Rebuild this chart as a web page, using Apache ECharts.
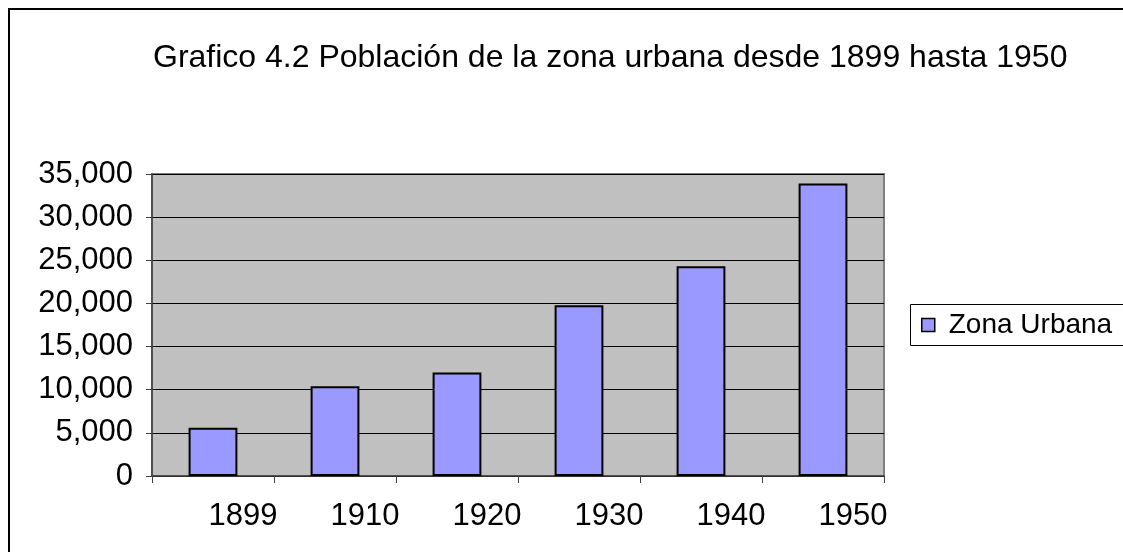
<!DOCTYPE html>
<html>
<head>
<meta charset="utf-8">
<script src="https://cdn.jsdelivr.net/npm/echarts@6/dist/echarts.min.js"></script>
<style>
  html, body { margin: 0; padding: 0; background: #fff; }
  #chart { width: 1123px; height: 552px; }
</style>
</head>
<body>
<div id="chart"></div>
<script>
var years = ['1899', '1910', '1920', '1930', '1940', '1950'];
var zonaUrbana = [5600, 10400, 12000, 19800, 24300, 33900];
var seriesName = 'Zona Urbana';
var titleText = 'Grafico 4.2 Población de la zona urbana desde 1899 hasta 1950';

document.addEventListener("DOMContentLoaded", () => {
    var font = 'Liberation Sans, Arial, sans-serif';
    echarts.init(document.querySelector("#chart")).setOption({
    animation: false,
    textStyle: { fontFamily: font },
    title: {
        text: titleText,
        left: 148,
        top: 37,
        textStyle: { fontSize: 32, fontWeight: 'normal', color: '#000', fontFamily: font }
    },
    graphic: [
        {
            type: 'rect',
            shape: { x: 9, y: 9, width: 1300, height: 700 },
            style: { fill: 'none', stroke: '#000', lineWidth: 2 },
            silent: true
        },
        {
            type: 'rect',
            shape: { x: 910.5, y: 304.5, width: 400, height: 41 },
            style: { fill: '#fff', stroke: '#000', lineWidth: 1 },
            silent: true
        }
    ],
    legend: {
        data: [seriesName],
        left: 921,
        top: 311,
        icon: 'rect',
        itemWidth: 13,
        itemHeight: 13,
        itemGap: 6,
        padding: 0,
        itemStyle: { borderColor: '#000', borderWidth: 1.5 },
        textStyle: { fontSize: 28, color: '#000', fontFamily: font, padding: [0, 0, 0, 9] }
    },
    grid: {
        left: 152,
        right: 239,
        top: 174,
        bottom: 76,
        show: true,
        backgroundColor: '#C0C0C0',
        borderColor: '#808080',
        borderWidth: 2
    },
    xAxis: {
        type: 'category',
        data: years,
        axisLine: { lineStyle: { color: '#404040', width: 1.5 } },
        axisTick: { show: true, length: 7, lineStyle: { color: '#404040' } },
        axisLabel: { fontSize: 31, color: '#000', margin: 25, fontFamily: font, padding: [0, 0, 0, 60] }
    },
    yAxis: {
        type: 'value',
        min: 0,
        max: 35000,
        interval: 5000,
        axisLine: { show: true, lineStyle: { color: '#404040', width: 1.5 } },
        axisTick: { show: true, length: 6, lineStyle: { color: '#404040' } },
        axisLabel: {
            fontSize: 31,
            color: '#000',
            margin: 19,
            fontFamily: font,
            formatter: v => v.toLocaleString('en-US')
        },
        splitLine: { lineStyle: { color: '#000', width: 1 } }
    },
    series: [{
        name: seriesName,
        type: 'bar',
        data: zonaUrbana,
        barWidth: '40%',
        itemStyle: { color: '#9999FF', borderColor: '#000', borderWidth: 2 }
      }]
    });
  });
</script>
</body>
</html>
